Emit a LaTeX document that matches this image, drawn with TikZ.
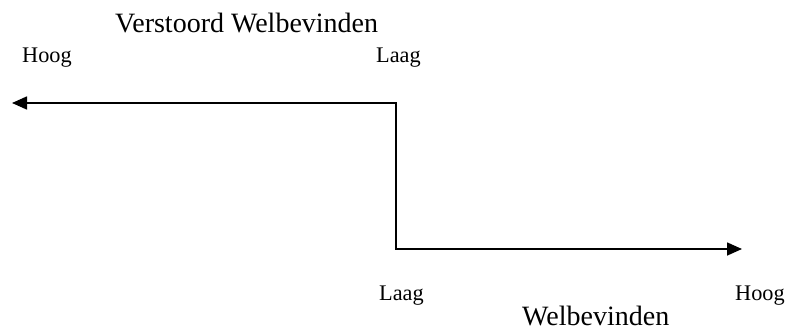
\documentclass[tikz,border=0pt]{standalone}
\usepackage{fontspec}
\setmainfont{Liberation Serif}
\usetikzlibrary{arrows.meta}
\tikzset{
  small/.style={inner sep=0pt, anchor=base west, font=\fontsize{22.3}{25}\selectfont},
  big/.style={inner sep=0pt, anchor=base west, font=\fontsize{28}{31}\selectfont},
  axis/.style={line width=1.6pt, {Triangle[length=15pt,width=13pt]}-{Triangle[length=15pt,width=13pt]}}
}
\begin{document}
\begin{tikzpicture}[x=1pt,y=-1pt]
\useasboundingbox (0,0) rectangle (787,332);
\node[big] (vw) at (115,32) {Verstoord Welbevinden};
\node[small] (h1) at (22,62) {Hoog};
\node[small] (l1) at (376,62) {Laag};
\node[small] (l2) at (379,300) {Laag};
\node[small] (h2) at (735,300) {Hoog};
\node[big] (wb) at (522,325) {Welbevinden};
\coordinate (left) at (12,103);
\coordinate (c1) at (396,103);
\coordinate (c2) at (396,249);
\coordinate (right) at (742,249);
\draw[axis] (left) -- (c1) -- (c2) -- (right);
\end{tikzpicture}
\end{document}
